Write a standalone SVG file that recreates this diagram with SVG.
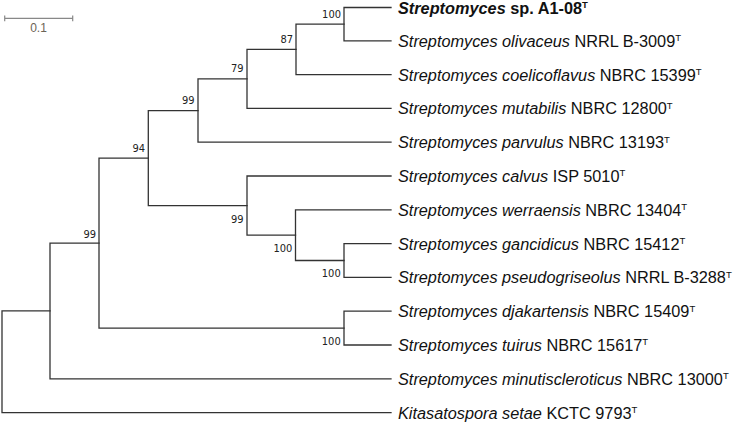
<svg xmlns="http://www.w3.org/2000/svg" width="735" height="424" viewBox="0 0 735 424">
<style>
.br{fill:none;stroke:#333;stroke-width:1.3;stroke-linecap:square}
.bs{font-family:"DejaVu Sans Condensed","DejaVu Sans",sans-serif;font-size:11px;fill:#222;text-anchor:end}
.lf{font-family:"Liberation Sans",Arial,sans-serif;font-size:16.3px;fill:#111}
.it{font-style:italic}
.sup{font-size:9.5px}
</style>
<rect width="735" height="424" fill="#fff"/>
<g id="scale">
<path d="M4.7,18.3 H72.7 M4.7,15.5 V21.2 M72.7,15.5 V21.2" fill="none" stroke="#888" stroke-width="1.2"/>
<text x="38.5" y="32.3" font-family="'Liberation Sans',Arial,sans-serif" font-size="12" fill="#6b6356" text-anchor="middle">0.1</text>
</g>
<g id="connectors">
<path class="br" d="M391,7.5 H344 V40.8 H391"/>
<path class="br" d="M344,24.15 H296 V74.6 H391"/>
<path class="br" d="M296,49.4 H247 V108.4 H391"/>
<path class="br" d="M247,78.9 H198 V142.2 H391"/>
<path class="br" d="M391,243.6 H344 V277.4 H391"/>
<path class="br" d="M391,209.8 H295.5 V260.5 H344"/>
<path class="br" d="M391,176 H247 V235.15 H295.5"/>
<path class="br" d="M198,110.55 H148.3 V205.6 H247"/>
<path class="br" d="M391,311.2 H344 V345 H391"/>
<path class="br" d="M148.3,158.05 H99 V328.1 H344"/>
<path class="br" d="M99,243.1 H50 V378.8 H391"/>
<path class="br" d="M50,310.95 H2 V412.6 H391"/>
</g>
<g id="bootstrap">
<text class="bs" x="341" y="17.6">100</text>
<text class="bs" x="293" y="42.9">87</text>
<text class="bs" x="243.5" y="72.4">79</text>
<text class="bs" x="194.5" y="103.5">99</text>
<text class="bs" x="145" y="152">94</text>
<text class="bs" x="96" y="237.5">99</text>
<text class="bs" x="243.5" y="223.3">99</text>
<text class="bs" x="292.3" y="252">100</text>
<text class="bs" x="340.7" y="277.3">100</text>
<text class="bs" x="340.7" y="344.7">100</text>
</g>
<g id="leaf-A1-08"><text class="lf" x="398" y="13.6" font-weight="bold"><tspan class="it">Streptomyces</tspan> sp. A1-08<tspan class="sup" dy="-5.5">T</tspan></text></g>
<g id="leaf-olivaceus"><text class="lf" x="398" y="46.7"><tspan class="it">Streptomyces olivaceus</tspan> NRRL B-3009<tspan class="sup" dy="-5.5">T</tspan></text></g>
<g id="leaf-coelicoflavus"><text class="lf" x="398" y="80.5"><tspan class="it">Streptomyces coelicoflavus</tspan> NBRC 15399<tspan class="sup" dy="-5.5">T</tspan></text></g>
<g id="leaf-mutabilis"><text class="lf" x="398" y="114.3"><tspan class="it">Streptomyces mutabilis</tspan> NBRC 12800<tspan class="sup" dy="-5.5">T</tspan></text></g>
<g id="leaf-parvulus"><text class="lf" x="398" y="148.1"><tspan class="it">Streptomyces parvulus</tspan> NBRC 13193<tspan class="sup" dy="-5.5">T</tspan></text></g>
<g id="leaf-calvus"><text class="lf" x="398" y="181.9"><tspan class="it">Streptomyces calvus</tspan> ISP 5010<tspan class="sup" dy="-5.5">T</tspan></text></g>
<g id="leaf-werraensis"><text class="lf" x="398" y="215.7"><tspan class="it">Streptomyces werraensis</tspan> NBRC 13404<tspan class="sup" dy="-5.5">T</tspan></text></g>
<g id="leaf-gancidicus"><text class="lf" x="398" y="249.5"><tspan class="it">Streptomyces gancidicus</tspan> NBRC 15412<tspan class="sup" dy="-5.5">T</tspan></text></g>
<g id="leaf-pseudogriseolus"><text class="lf" x="398" y="283.3"><tspan class="it">Streptomyces pseudogriseolus</tspan> NRRL B-3288<tspan class="sup" dy="-5.5">T</tspan></text></g>
<g id="leaf-djakartensis"><text class="lf" x="398" y="317.1"><tspan class="it">Streptomyces djakartensis</tspan> NBRC 15409<tspan class="sup" dy="-5.5">T</tspan></text></g>
<g id="leaf-tuirus"><text class="lf" x="398" y="350.9"><tspan class="it">Streptomyces tuirus</tspan> NBRC 15617<tspan class="sup" dy="-5.5">T</tspan></text></g>
<g id="leaf-minutiscleroticus"><text class="lf" x="398" y="384.7"><tspan class="it">Streptomyces minutiscleroticus</tspan> NBRC 13000<tspan class="sup" dy="-5.5">T</tspan></text></g>
<g id="leaf-setae"><text class="lf" x="398" y="418.5"><tspan class="it">Kitasatospora setae</tspan> KCTC 9793<tspan class="sup" dy="-5.5">T</tspan></text></g>
</svg>
